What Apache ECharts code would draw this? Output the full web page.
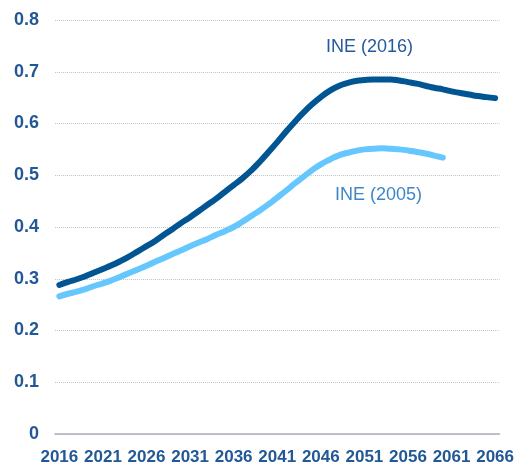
<!DOCTYPE html>
<html>
<head>
<meta charset="utf-8">
<script src="https://cdn.jsdelivr.net/npm/echarts@6/dist/echarts.min.js"></script>
<style>
  html, body { margin: 0; padding: 0; background: #fff; }
  #chart { width: 517px; height: 466px; }
</style>
</head>
<body>
<div id="chart"></div>
<script>
  // years on the category axis
  var years = [];
  for (var y = 2016; y <= 2066; y++) years.push(String(y));

  // INE (2016) projection
  var ine2016 = [
    0.288, 0.294, 0.299, 0.305, 0.312, 0.319, 0.326, 0.334, 0.343, 0.353,
    0.363, 0.373, 0.385, 0.396, 0.408, 0.419, 0.431, 0.443, 0.455, 0.468,
    0.481, 0.494, 0.509, 0.526, 0.545, 0.564, 0.584, 0.603, 0.621, 0.637,
    0.651, 0.663, 0.672, 0.678, 0.682, 0.684, 0.685, 0.685, 0.685, 0.683,
    0.680, 0.677, 0.673, 0.669, 0.666, 0.662, 0.659, 0.656, 0.653, 0.651,
    0.649
  ];

  // INE (2005) projection, ends in 2060
  var ine2005 = [
    0.266, 0.271, 0.275, 0.280, 0.286, 0.291, 0.297, 0.304, 0.311, 0.318,
    0.325, 0.333, 0.340, 0.348, 0.355, 0.363, 0.370, 0.377, 0.385, 0.392,
    0.400, 0.410, 0.421, 0.432, 0.444, 0.457, 0.470, 0.484, 0.497, 0.510,
    0.521, 0.530, 0.538, 0.543, 0.547, 0.550, 0.551, 0.552, 0.551, 0.550,
    0.548, 0.545, 0.542, 0.538, 0.534, null, null, null, null, null,
    null
  ];

  var labelColor = '#235896';
  var font = '"Liberation Sans", Arial, sans-serif';

  var chart = echarts.init(document.getElementById('chart'));

  chart.setOption({
    animation: false,
    grid: { left: 55, right: 15, top: 20, bottom: 28 },
    xAxis: {
      type: 'category',
      data: years,
      boundaryGap: true,
      axisLine: { lineStyle: { color: '#a9b0bf', width: 1.5 } },
      axisTick: { interval: 0, length: 4, lineStyle: { color: '#a9b0bf' } },
      axisLabel: {
        interval: 4,
        margin: 15,
        color: labelColor,
        fontFamily: font,
        fontWeight: 'bold',
        fontSize: 17
      },
      splitLine: { show: false }
    },
    yAxis: {
      type: 'value',
      min: 0,
      max: 0.8,
      interval: 0.1,
      axisLine: { show: false },
      axisTick: { show: false },
      axisLabel: {
        margin: 16,
        color: labelColor,
        fontFamily: font,
        fontWeight: 'bold',
        fontSize: 18,
        formatter: function (v) { return v === 0 ? '0' : v.toFixed(1); }
      },
      splitLine: { lineStyle: { color: '#c4c4c4', type: 'dotted', width: 1 } }
    },
    series: [
      {
        name: 'INE (2016)',
        type: 'line',
        data: ine2016,
        smooth: true,
        showSymbol: false,
        lineStyle: { color: '#005592', width: 6, cap: 'round' }
      },
      {
        name: 'INE (2005)',
        type: 'line',
        data: ine2005,
        smooth: true,
        showSymbol: false,
        lineStyle: { color: '#66c7ff', width: 6, cap: 'round' }
      }
    ],
    graphic: [
      {
        type: 'text',
        left: 326, top: 38,
        style: {
          text: 'INE (2016)',
          fill: '#245a99',
          font: '18px ' + font
        }
      },
      {
        type: 'text',
        left: 335, top: 186,
        style: {
          text: 'INE (2005)',
          fill: '#3f86c8',
          font: '18px ' + font
        }
      }
    ]
  });
</script>
</body>
</html>
